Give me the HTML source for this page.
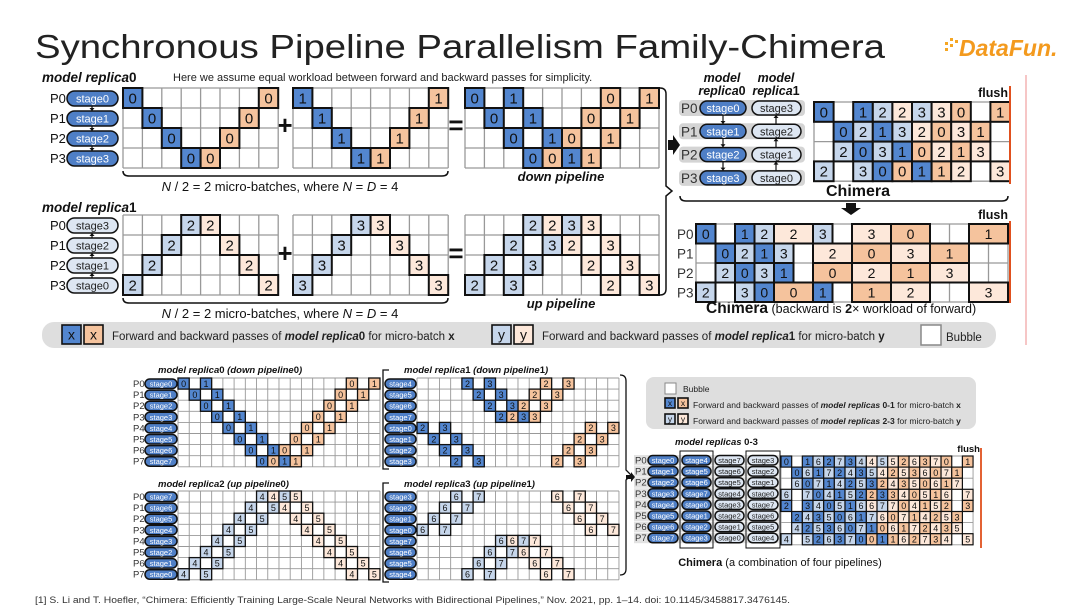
<!DOCTYPE html>
<html><head><meta charset="utf-8"><style>
html,body{margin:0;padding:0;background:#fff;}
body{width:1080px;height:608px;overflow:hidden;position:relative;font-family:"Liberation Sans",sans-serif;}
svg{position:absolute;left:0;top:0;}
text{font-family:"Liberation Sans",sans-serif;}
</style></head><body>
<svg id="s" width="1080" height="608" viewBox="0 0 1080 608" xmlns="http://www.w3.org/2000/svg">
<text x="35" y="58" font-size="33" fill="#222" textLength="850" lengthAdjust="spacingAndGlyphs">Synchronous Pipeline Parallelism Family-Chimera</text>
<g fill="#f5a623"><rect x="945" y="42" width="3" height="3"/><rect x="950" y="38" width="3" height="3"/><rect x="950" y="44" width="3" height="3"/><rect x="955" y="40" width="3" height="3"/><rect x="945" y="48" width="3" height="3"/></g>
<text x="959" y="56" font-size="23" font-weight="bold" font-style="italic" fill="#f39a1e">DataFun.</text>
<line x1="1026" y1="75" x2="1026" y2="345" stroke="#f4b4b4" stroke-width="1.5"/>

<text x="42" y="82" font-size="13.5" font-weight="bold" font-style="italic" fill="#111">model replica<tspan font-style="normal">0</tspan></text>
<text x="173" y="81" font-size="11" fill="#222">Here we assume equal workload between forward and backward passes for simplicity.</text>
<text x="42" y="212" font-size="13.5" font-weight="bold" font-style="italic" fill="#111">model replica<tspan font-style="normal">1</tspan></text>

<text x="280" y="191" font-size="13" text-anchor="middle" fill="#111"><tspan font-style="italic">N</tspan> / 2 = 2 micro-batches, where <tspan font-style="italic">N</tspan> = <tspan font-style="italic">D</tspan> = 4</text>
<text x="280" y="318" font-size="13" text-anchor="middle" fill="#111"><tspan font-style="italic">N</tspan> / 2 = 2 micro-batches, where <tspan font-style="italic">N</tspan> = <tspan font-style="italic">D</tspan> = 4</text>
<text x="561" y="181" font-size="13" font-weight="bold" font-style="italic" text-anchor="middle" fill="#111">down pipeline</text>
<text x="561" y="308" font-size="13" font-weight="bold" font-style="italic" text-anchor="middle" fill="#111">up pipeline</text>
<text x="285" y="134" font-size="26" font-weight="bold" text-anchor="middle" fill="#111">+</text>
<text x="285" y="262" font-size="26" font-weight="bold" text-anchor="middle" fill="#111">+</text>
<text x="456" y="134" font-size="26" font-weight="bold" text-anchor="middle" fill="#111">=</text>
<text x="456" y="262" font-size="26" font-weight="bold" text-anchor="middle" fill="#111">=</text>

<text x="722" y="82" font-size="12.5" font-weight="bold" font-style="italic" text-anchor="middle" fill="#111">model</text>
<text x="722" y="95" font-size="12.5" font-weight="bold" font-style="italic" text-anchor="middle" fill="#111">replica<tspan font-style="normal">0</tspan></text>
<text x="776" y="82" font-size="12.5" font-weight="bold" font-style="italic" text-anchor="middle" fill="#111">model</text>
<text x="776" y="95" font-size="12.5" font-weight="bold" font-style="italic" text-anchor="middle" fill="#111">replica<tspan font-style="normal">1</tspan></text>
<text x="1008" y="97" font-size="12.5" font-weight="bold" text-anchor="end" fill="#111">flush</text>
<text x="858" y="196" font-size="16" font-weight="bold" text-anchor="middle" fill="#111">Chimera</text>
<text x="1008" y="219" font-size="12.5" font-weight="bold" text-anchor="end" fill="#111">flush</text>
<text x="706" y="313" font-size="15.5" fill="#111"><tspan font-weight="bold">Chimera</tspan><tspan font-size="12.5"> (backward is <tspan font-weight="bold">2</tspan>× workload of forward)</tspan></text>

<rect x="42" y="322" width="954" height="26" rx="12" fill="#dedede"/>
<text x="112" y="340" font-size="11.5" fill="#222">Forward and backward passes of <tspan font-weight="bold" font-style="italic">model replica</tspan><tspan font-weight="bold">0</tspan> for micro-batch <tspan font-weight="bold">x</tspan></text>
<text x="542" y="340" font-size="11.5" fill="#222">Forward and backward passes of <tspan font-weight="bold" font-style="italic">model replica</tspan><tspan font-weight="bold">1</tspan> for micro-batch <tspan font-weight="bold">y</tspan></text>
<rect x="921" y="325" width="20" height="20" fill="#fff" stroke="#888" stroke-width="1.5"/>
<text x="946" y="341" font-size="11.5" fill="#222">Bubble</text>

<text x="158" y="373" font-size="9.5" font-weight="bold" font-style="italic" fill="#111">model replica<tspan font-style="normal">0</tspan> (down pipeline<tspan font-style="normal">0</tspan>)</text>
<text x="404" y="373" font-size="9.5" font-weight="bold" font-style="italic" fill="#111">model replica<tspan font-style="normal">1</tspan> (down pipeline<tspan font-style="normal">1</tspan>)</text>
<text x="158" y="487" font-size="9.5" font-weight="bold" font-style="italic" fill="#111">model replica<tspan font-style="normal">2</tspan> (up pipeline<tspan font-style="normal">0</tspan>)</text>
<text x="404" y="487" font-size="9.5" font-weight="bold" font-style="italic" fill="#111">model replica<tspan font-style="normal">3</tspan> (up pipeline<tspan font-style="normal">1</tspan>)</text>

<rect x="646" y="377" width="330" height="52" rx="8" fill="#dedede"/>
<rect x="665" y="383" width="11" height="11" fill="#fff" stroke="#888"/>
<text x="683" y="392" font-size="8.5" fill="#222">Bubble</text>
<text x="693" y="408" font-size="8.5" fill="#222">Forward and backward passes of <tspan font-weight="bold" font-style="italic">model replicas</tspan><tspan font-weight="bold"> 0-1</tspan> for micro-batch <tspan font-weight="bold">x</tspan></text>
<text x="693" y="424" font-size="8.5" fill="#222">Forward and backward passes of <tspan font-weight="bold" font-style="italic">model replicas</tspan><tspan font-weight="bold"> 2-3</tspan> for micro-batch <tspan font-weight="bold">y</tspan></text>
<text x="675" y="445" font-size="9.5" font-weight="bold" font-style="italic" fill="#111">model replicas <tspan font-style="normal">0-3</tspan></text>
<text x="980" y="452" font-size="9.5" font-weight="bold" text-anchor="end" fill="#111">flush</text>
<text x="780" y="566" font-size="11" text-anchor="middle" fill="#111"><tspan font-weight="bold">Chimera</tspan> (a combination of four pipelines)</text>

<text x="35" y="603" font-size="9" fill="#333" textLength="755" lengthAdjust="spacingAndGlyphs">[1] S. Li and T. Hoefler, “Chimera: Efficiently Training Large-Scale Neural Networks with Bidirectional Pipelines,” Nov. 2021, pp. 1–14. doi: 10.1145/3458817.3476145.</text>
<g id="dyn"></g>
</svg>
<script>
var NS="http://www.w3.org/2000/svg",G=document.getElementById('dyn');
var COL={B:'#5386cf',O:'#f5c39d',L:'#c6d6eb',P:'#fde8da'};
function el(t,a,txt){var e=document.createElementNS(NS,t);for(var k in a)e.setAttribute(k,a[k]);if(txt!==undefined)e.textContent=txt;G.appendChild(e);return e;}
function txt(x,y,s,fs,o){o=o||{};var a={x:x,y:y,'font-size':fs,fill:o.fill||'#111','text-anchor':o.anchor||'start'};if(o.bold)a['font-weight']='bold';el('text',a,s);}
function grid(x,y,cols,rows,cw,rh,cells,fs,sw,bw){
  el('rect',{x:x,y:y,width:cols*cw,height:rows*rh,fill:'#fff'});
  for(var i=0;i<=cols;i++)el('line',{x1:x+i*cw,y1:y,x2:x+i*cw,y2:y+rows*rh,stroke:'#999','stroke-width':sw});
  for(var j=0;j<=rows;j++)el('line',{x1:x,y1:y+j*rh,x2:x+cols*cw,y2:y+j*rh,stroke:'#999','stroke-width':sw});
  cells.forEach(function(c){var cx=x+c[1]*cw,cy=y+c[0]*rh,w=c[2]*cw;
    el('rect',{x:cx,y:cy,width:w,height:rh,fill:COL[c[4]],stroke:'#111','stroke-width':bw});
    txt(cx+w/2,cy+rh*0.5+fs*0.36,c[3],fs,{anchor:'middle'});});
}
function pill(x,y,w,h,s,dark,fs){
  el('rect',{x:x,y:y,width:w,height:h,rx:h/2,fill:dark?'#4f7fc6':'#dde6f2',stroke:'#111','stroke-width':1.5});
  txt(x+w/2,y+h/2+fs*0.36,s,fs,{anchor:'middle',fill:dark?'#fff':'#222'});
}
function arrowV(x,y1,y2,sw){el('line',{x1:x,y1:y1,x2:x,y2:y2,stroke:'#111','stroke-width':sw||1.2});var d=y2>y1?1:-1;el('path',{d:'M'+(x-2.5)+' '+(y2-3*d)+' L'+(x+2.5)+' '+(y2-3*d)+' L'+x+' '+y2+'Z',fill:'#111'});}
var cw=19.4,rh=20;
var g1=[],g2=[],g3=[],g4=[];
for(var i=0;i<4;i++){g1.push([i,i,1,'0','B'],[i,7-i,1,'0','O']);g2.push([i,i,1,'1','B'],[i,7-i,1,'1','O']);
 g3.push([i,3-i,1,'2','L'],[i,4+i,1,'2','P']);g4.push([i,3-i,1,'3','L'],[i,4+i,1,'3','P']);}
grid(123,88,8,4,cw,rh,g1,15,1.3,2);grid(293,88,8,4,cw,rh,g2,15,1.3,2);
var d=[[0,0,1,'0','B'],[0,2,1,'1','B'],[0,7,1,'0','O'],[0,9,1,'1','O'],[1,1,1,'0','B'],[1,3,1,'1','B'],[1,6,1,'0','O'],[1,8,1,'1','O'],
[2,2,1,'0','B'],[2,4,1,'1','B'],[2,5,1,'0','O'],[2,7,1,'1','O'],[3,3,1,'0','B'],[3,4,1,'0','O'],[3,5,1,'1','B'],[3,6,1,'1','O']];
grid(465,88,10,4,cw,rh,d,15,1.3,2);
grid(123,215,8,4,cw,rh,g3,15,1.3,2);grid(293,215,8,4,cw,rh,g4,15,1.3,2);
var u=[[0,3,1,'2','L'],[0,4,1,'2','P'],[0,5,1,'3','L'],[0,6,1,'3','P'],[1,2,1,'2','L'],[1,4,1,'3','L'],[1,5,1,'2','P'],[1,7,1,'3','P'],
[2,1,1,'2','L'],[2,3,1,'3','L'],[2,6,1,'2','P'],[2,8,1,'3','P'],[3,0,1,'2','L'],[3,2,1,'3','L'],[3,7,1,'2','P'],[3,9,1,'3','P']];
grid(465,215,10,4,cw,rh,u,15,1.3,2);
var st=['stage0','stage1','stage2','stage3'];
for(i=0;i<4;i++){txt(50,103+i*20,'P'+i,13);pill(67,91+i*20,51,15,st[i],true,11);
 txt(50,230+i*20,'P'+i,13);pill(67,218+i*20,51,15,st[3-i],false,11);}
for(i=0;i<3;i++){arrowV(92,106+i*20,111+i*20);arrowV(92,238+i*20,233+i*20);}
function hbrace(x1,x2,y){el('path',{d:'M'+x1+' '+(y-5)+' Q'+x1+' '+y+' '+(x1+6)+' '+y+' L'+(x2-6)+' '+y+' Q'+x2+' '+y+' '+x2+' '+(y-5),fill:'none',stroke:'#111','stroke-width':1.5});}
hbrace(123,448,176);hbrace(123,448,303);
el('path',{d:'M660 88 Q666 88 666 94 L666 186 L672 191 L666 196 L666 289 Q666 295 660 295',fill:'none',stroke:'#111','stroke-width':1.5});
el('path',{d:'M668 140 L673 140 L673 135 L680 145 L673 155 L673 150 L668 150Z',fill:'#111'});
for(i=0;i<4;i++){var yy=100+i*23.3;el('rect',{x:679,y:yy,width:126,height:16,rx:4,fill:'#d4d4d4'});
 txt(681,yy+13,'P'+i,13.5,{fill:'#333'});pill(700,yy+1,46,14,st[i],true,11);pill(752,yy+1,49,14,st[3-i],false,11);}
for(i=0;i<3;i++){arrowV(723,115+i*23.3,124+i*23.3);arrowV(776,124+i*23.3,115+i*23.3);}
var ch=[['0B','','1B','2L','2P','3L','3P','0O','','1O'],['','0B','2L','1B','3L','2P','0O','3P','1O',''],['','2L','0B','3L','1B','0O','2P','1O','3P',''],['2L','','3L','0B','0O','1B','1O','2P','','3P']];
var cc=[];ch.forEach(function(r,ri){r.forEach(function(v,ci){if(v)cc.push([ri,ci,1,v[0],v[1]]);});});
grid(814,102,10,4,19.6,19.8,cc,15,1.3,2);
el('line',{x1:1010,y1:86,x2:1010,y2:184,stroke:'#e0501e','stroke-width':2});
hbrace(680,1008,201);
el('path',{d:'M846 203 L856 203 L856 208 L861 208 L851 215 L841 208 L846 208Z',fill:'#111'});
var lc=[
 [[0,1,'0','B'],[2,1,'1','B'],[3,1,'2','L'],[4,2,'2','P'],[6,1,'3','L'],[8,2,'3','P'],[10,2,'0','O'],[14,2,'1','O']],
 [[1,1,'0','B'],[2,1,'2','L'],[3,1,'1','B'],[4,1,'3','L'],[6,2,'2','P'],[8,2,'0','O'],[10,2,'3','P'],[12,2,'1','O']],
 [[1,1,'2','L'],[2,1,'0','B'],[3,1,'3','L'],[4,1,'1','B'],[6,2,'0','O'],[8,2,'2','P'],[10,2,'1','O'],[12,2,'3','P']],
 [[0,1,'2','L'],[2,1,'3','L'],[3,1,'0','B'],[4,2,'0','O'],[6,1,'1','B'],[8,2,'1','O'],[10,2,'2','P'],[14,2,'3','P']]];
var lcc=[];lc.forEach(function(r,ri){r.forEach(function(c){lcc.push([ri,c[0],c[1],c[2],c[3]]);});});
grid(696,224,16,4,19.5,19.5,lcc,14,1.3,2);
for(i=0;i<4;i++)txt(677,239+i*19.5,'P'+i,13.5,{fill:'#333'});
el('line',{x1:1010,y1:221,x2:1010,y2:303,stroke:'#e0501e','stroke-width':2});
function lbox(x,y,s,c,sz,fs){el('rect',{x:x,y:y,width:sz,height:sz,fill:COL[c],stroke:'#111','stroke-width':1.6});txt(x+sz/2,y+sz/2+fs*0.36,s,fs,{anchor:'middle'});}
lbox(62,325,'x','B',19,14);lbox(84,325,'x','O',19,14);lbox(492,325,'y','L',19,14);lbox(514,325,'y','P',19,14);
lbox(665,398,'x','B',10,8.5);lbox(678,398,'x','O',10,8.5);
var bcw=11.22,brh=11.1;
function pipe(mb,rowStage,light){var c=[];for(var r=0;r<8;r++){var s=rowStage[r];for(var k=0;k<2;k++){c.push([r,s+2*k,1,String(mb+k),light?'L':'B']);c.push([r,15-s+2*k,1,String(mb+k),light?'P':'O']);}}return c;}
var rs0=[0,1,2,3,4,5,6,7],rs1=[4,5,6,7,0,1,2,3],rs2=[7,6,5,4,3,2,1,0],rs3=[3,2,1,0,7,6,5,4];
grid(178,378,18,8,bcw,brh,pipe(0,rs0,false),9,0.9,1.3);
grid(417,378,18,8,bcw,brh,pipe(2,rs1,false),9,0.9,1.3);
grid(178,491,18,8,bcw,brh,pipe(4,rs2,true),9,0.9,1.3);
grid(417,491,18,8,bcw,brh,pipe(6,rs3,true),9,0.9,1.3);
for(i=0;i<8;i++){
 txt(133,387+i*brh,'P'+i,9.5,{fill:'#333'});pill(145,379+i*brh,32,9.5,'stage'+rs0[i],true,7.5);
 pill(385,379+i*brh,31,9.5,'stage'+rs1[i],true,7.5);
 txt(133,500+i*brh,'P'+i,9.5,{fill:'#333'});pill(145,492+i*brh,32,9.5,'stage'+rs2[i],true,7.5);
 pill(385,492+i*brh,31,9.5,'stage'+rs3[i],true,7.5);}
el('path',{d:'M389 370 L383 370 L383 469 L389 469',fill:'none',stroke:'#111','stroke-width':1.3});
el('path',{d:'M389 483 L383 483 L383 582 L389 582',fill:'none',stroke:'#111','stroke-width':1.3});
el('path',{d:'M620 375 Q626 375 626 381 L626 470 L631 475 L626 480 L626 569 Q626 575 620 575',fill:'none',stroke:'#111','stroke-width':1.3});
var rows=[
 [0,'',1,6,2,7,3,4,4,5,5,2,6,3,7,0,'',1],
 ['',0,6,1,7,2,4,3,5,4,2,5,3,6,0,7,1,''],
 ['',6,0,7,1,4,2,5,3,2,4,3,5,0,6,1,7,''],
 [6,'',7,0,4,1,5,2,2,3,3,4,0,5,1,6,'',7],
 [2,'',3,4,0,5,1,6,6,7,7,0,4,1,5,2,'',3],
 ['',2,4,3,5,0,6,1,7,6,0,7,1,4,2,5,3,''],
 ['',4,2,5,3,6,0,7,1,0,6,1,7,2,4,3,5,''],
 [4,'',5,2,6,3,7,0,0,1,1,6,2,7,3,4,'',5]];
var bc=[];rows.forEach(function(r,ri){var seen={};r.forEach(function(v,ci){if(v==='')return;var back=seen[v];seen[v]=1;var dark=v<4;bc.push([ri,ci,1,String(v),dark?(back?'O':'B'):(back?'P':'L')]);});});
grid(781,456,18,8,10.67,11.1,bc,9,0.9,1.2);
el('line',{x1:981,y1:448,x2:981,y2:548,stroke:'#e0501e','stroke-width':1.8});
var cs=[[0,4,7,3],[1,5,6,2],[2,6,5,1],[3,7,4,0],[4,0,3,7],[5,1,2,6],[6,2,1,5],[7,3,0,4]];
for(i=0;i<8;i++){var y0=455+i*11.1;el('rect',{x:634,y:y0,width:145,height:10.5,fill:'#e2e2e2'});
 txt(635,y0+8.5,'P'+i,9.5,{fill:'#333'});
 pill(648,y0+0.5,30,9.5,'stage'+cs[i][0],true,7.5);pill(682,y0+0.5,29,9.5,'stage'+cs[i][1],true,7.5);
 pill(715,y0+0.5,29,9.5,'stage'+cs[i][2],false,7.5);pill(748,y0+0.5,30,9.5,'stage'+cs[i][3],false,7.5);}
el('rect',{x:680,y:451,width:33,height:97,fill:'none',stroke:'#111','stroke-width':1});
el('rect',{x:746,y:451,width:34,height:97,fill:'none',stroke:'#111','stroke-width':1});
el('path',{d:'M626 475 L631 475 L631 472 L635 477 L631 482 L631 479 L626 479Z',fill:'#111'});
lbox(665,414,'y','L',10,8.5);lbox(678,414,'y','P',10,8.5);
</script>
</body></html>
